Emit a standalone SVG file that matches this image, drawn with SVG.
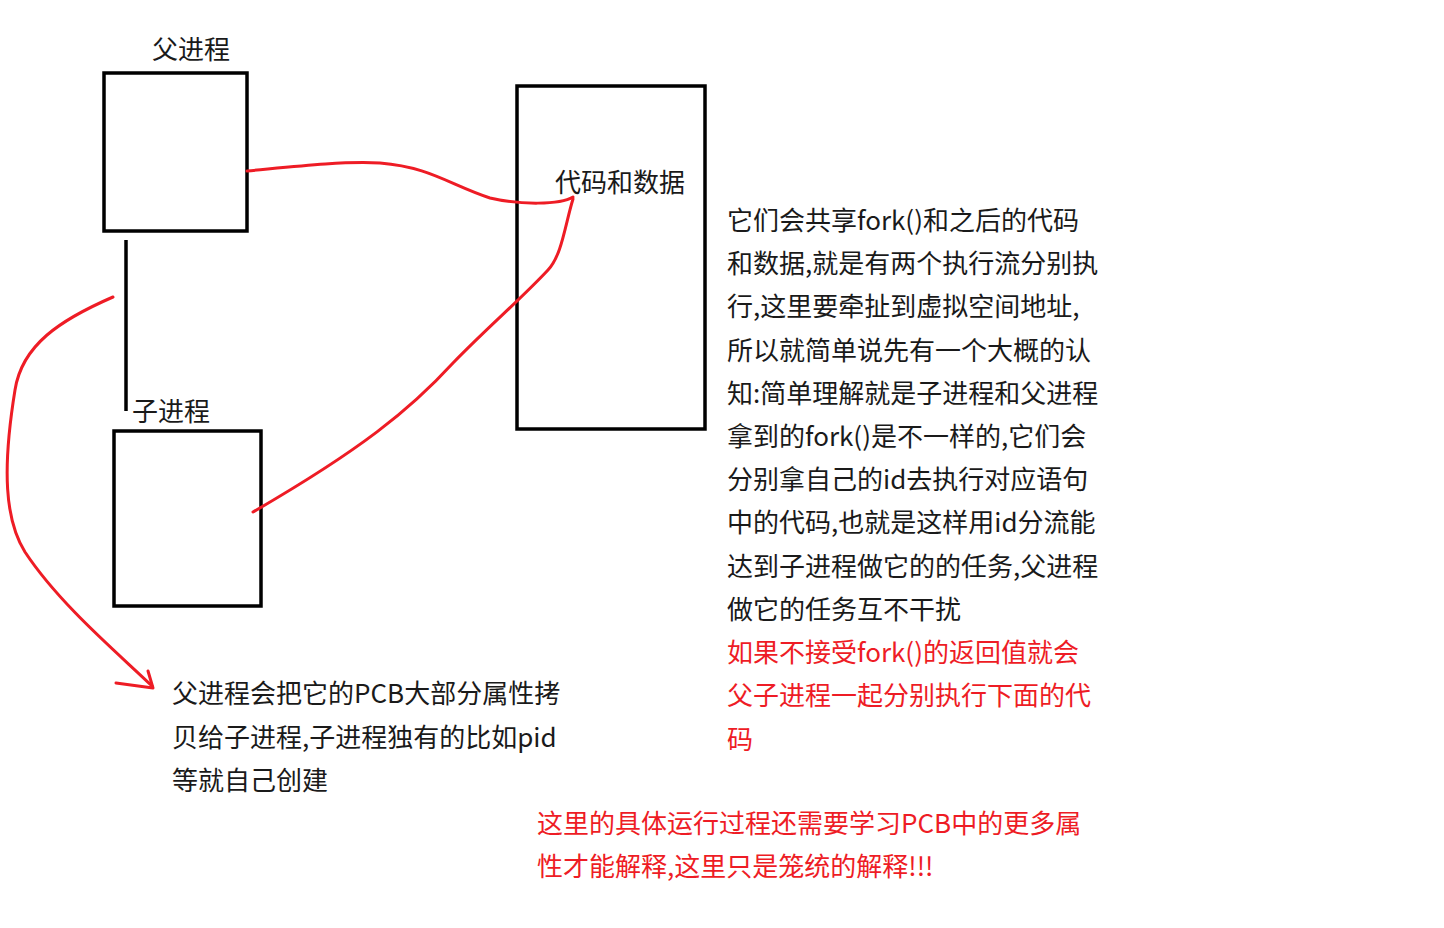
<svg xmlns="http://www.w3.org/2000/svg" width="1444" height="928" viewBox="0 0 1444 928">
<style>
  .box{fill:none;stroke:#000;stroke-width:3.5}
  .t{font-family:"Noto Sans CJK SC","Noto Sans",sans-serif;font-size:26px;fill:#1a1a1a}
  .r{fill:#ee1c25}
  .red{fill:none;stroke:#ee1c25;stroke-width:3;stroke-linecap:round;stroke-linejoin:round}
</style>
<rect width="1444" height="928" fill="#fff"/>
<g id="parent">
  <rect class="box" x="104" y="73" width="143" height="158"/>
  <text class="t" x="152" y="59">父进程</text>
</g>
<g id="child">
  <rect class="box" x="114" y="431" width="147" height="175"/>
  <text class="t" x="132" y="421">子进程</text>
</g>
<g id="codedata">
  <rect class="box" x="517" y="86" width="188" height="343"/>
  <text class="t" x="555" y="192">代码和数据</text>
</g>
<g id="connectors">
  <line x1="126" y1="240" x2="126" y2="411" stroke="#000" stroke-width="3.5"/>
  <path class="red" d="M247,171 C290,167 340,161 380,163 C430,167 450,185 490,198 C520,205 560,205 573,197"/>
  <path class="red" d="M573,199 C565,225 562,255 548,270 C520,300 490,325 453,363 C410,410 360,450 253,512"/>
  <path class="red" d="M113,297 C60,320 22,345 15,390 C2,470 5,520 25,552 C60,605 120,655 152,686"/>
  <path class="red" d="M148,671 L153,688 L116,683"/>
</g>
<g id="explanation">
  <text class="t">
    <tspan x="727" y="230">它们会共享fork()和之后的代码</tspan>
    <tspan x="727" y="273">和数据,就是有两个执行流分别执</tspan>
    <tspan x="727" y="316">行,这里要牵扯到虚拟空间地址,</tspan>
    <tspan x="727" y="360">所以就简单说先有一个大概的认</tspan>
    <tspan x="727" y="403">知:简单理解就是子进程和父进程</tspan>
    <tspan x="727" y="446">拿到的fork()是不一样的,它们会</tspan>
    <tspan x="727" y="489">分别拿自己的id去执行对应语句</tspan>
    <tspan x="727" y="532">中的代码,也就是这样用id分流能</tspan>
    <tspan x="727" y="576">达到子进程做它的的任务,父进程</tspan>
    <tspan x="727" y="619">做它的任务互不干扰</tspan>
  </text>
  <text class="t r">
    <tspan x="727" y="662">如果不接受fork()的返回值就会</tspan>
    <tspan x="727" y="705">父子进程一起分别执行下面的代</tspan>
    <tspan x="727" y="749">码</tspan>
  </text>
</g>
<g id="pcb-note">
  <text class="t">
    <tspan x="172" y="703">父进程会把它的PCB大部分属性拷</tspan>
    <tspan x="172" y="747">贝给子进程,子进程独有的比如pid</tspan>
    <tspan x="172" y="790">等就自己创建</tspan>
  </text>
</g>
<g id="red-note">
  <text class="t r">
    <tspan x="537" y="833">这里的具体运行过程还需要学习PCB中的更多属</tspan>
    <tspan x="537" y="876">性才能解释,这里只是笼统的解释!!!</tspan>
  </text>
</g>
</svg>
